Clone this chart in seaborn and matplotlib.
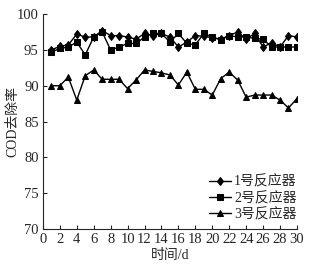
import numpy as np
import pandas as pd
import matplotlib
matplotlib.use("Agg")
import matplotlib.pyplot as plt
import seaborn as sns

days = list(range(1, 31))
r1 = [95.0, 95.5, 95.7, 97.2, 96.8, 96.8, 97.7, 97.0, 97.0, 96.8,
      96.5, 97.3, 97.0, 97.3, 96.8, 95.4, 96.1, 97.0, 96.9, 96.7,
      96.5, 97.0, 97.5, 96.5, 97.3, 95.4, 96.0, 95.4, 97.0, 96.8]
r2 = [94.7, 95.2, 95.4, 96.1, 94.3, 96.8, 97.5, 95.0, 95.4, 95.9,
      95.9, 96.8, 97.3, 97.3, 96.1, 97.3, 95.9, 95.7, 97.3, 96.8,
      96.4, 97.0, 96.8, 96.8, 96.6, 96.5, 95.4, 95.4, 95.4, 95.4]
r3 = [90.0, 90.0, 91.2, 88.0, 91.4, 92.2, 90.9, 90.9, 90.9, 89.6,
      90.8, 92.2, 92.0, 91.8, 91.5, 90.1, 91.9, 89.5, 89.5, 88.7,
      91.0, 91.9, 90.8, 88.4, 88.7, 88.7, 88.7, 88.0, 86.9, 88.2]
labels = ["1号反应器", "2号反应器", "3号反应器"]
xticks = list(range(0, 31, 2))
yticks = [70, 75, 80, 85, 90, 95, 100]

df = pd.DataFrame({
    "day": days * 3,
    "val": r1 + r2 + r3,
    "series": [labels[0]] * 30 + [labels[1]] * 30 + [labels[2]] * 30,
})

sns.set_style("ticks")
plt.rcParams["font.family"] = ["Liberation Serif", "Noto Sans CJK SC"]
plt.rcParams["xtick.direction"] = "in"
plt.rcParams["ytick.direction"] = "in"

fig = plt.figure(figsize=(3.2, 2.71), dpi=100)
ax = fig.add_axes([0.134, 0.155, 0.794, 0.793])

sns.lineplot(data=df, x="day", y="val", hue="series", style="series",
             markers={labels[0]: "d", labels[1]: "s", labels[2]: "^"},
             dashes=False, palette=["black"] * 3, ax=ax,
             linewidth=1.0, markersize=4.5, markeredgecolor="black")

ax.set_xlim(0, 30)
ax.set_ylim(70, 100)
ax.set_xticks(xticks)
ax.set_yticks(yticks)
ax.tick_params(labelsize=10.5, length=3, width=0.8, pad=3)
for s in ["top", "right"]:
    ax.spines[s].set_visible(False)
for s in ["left", "bottom"]:
    ax.spines[s].set_linewidth(0.8)
ax.set_xlabel("时间/d", fontsize=10, labelpad=2)
ax.set_ylabel("COD去除率", fontsize=10)
ax.yaxis.set_label_coords(-0.094, 0.5)

leg = ax.legend(loc="lower right", frameon=False, fontsize=10,
                handlelength=1.6, handletextpad=0.2, labelspacing=0.2,
                borderaxespad=0.0, bbox_to_anchor=(1.02, 0.01))

fig.savefig("out.png", dpi=100)
